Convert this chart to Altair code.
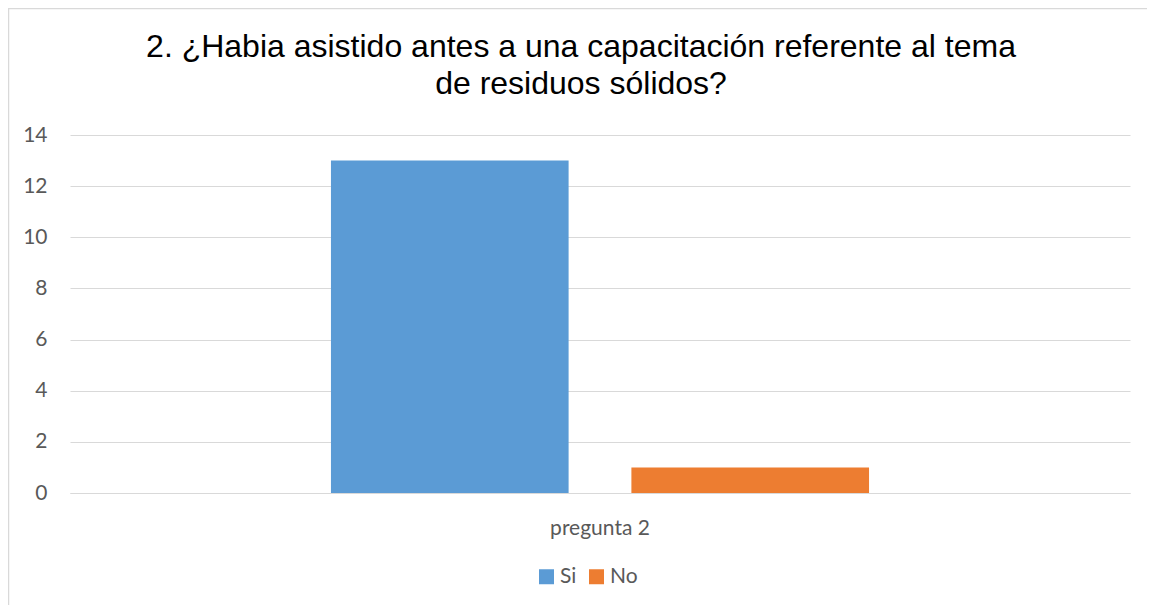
import altair as alt
import pandas as pd

categories = ["pregunta 2"]
series = ["Si", "No"]
values = [13, 1]
colors = ["#5B9BD5", "#ED7D31"]
title_lines = ["2. ¿Habia asistido antes a una capacitación referente al tema",
               "de residuos sólidos?"]

df = pd.DataFrame({
    "categoria": [categories[0]] * len(series),
    "serie": series,
    "valor": values,
})

W, H = 1060, 358
label_font = "Lato"
label_color = "#595959"
fs = 21

bars = alt.Chart(df).mark_bar().encode(
    x=alt.X("categoria:N", title=None,
            scale=alt.Scale(paddingOuter=0.485, paddingInner=0),
            axis=alt.Axis(labelAngle=0, ticks=False, domain=True, domainColor="#d9d9d9",
                          grid=False, labelPadding=24, labelFontSize=fs, labelFont=label_font,
                          labelColor=label_color)),
    xOffset=alt.XOffset("serie:N", sort=series,
                        scale=alt.Scale(paddingInner=0.209, paddingOuter=0)),
    y=alt.Y("valor:Q", title=None,
            scale=alt.Scale(domain=[0, 14]),
            axis=alt.Axis(values=list(range(0, 15, 2)), ticks=False, domain=False,
                          grid=True, gridColor="#d9d9d9", labelPadding=23, labelFontSize=fs,
                          labelFont=label_font, labelColor=label_color)),
    color=alt.Color("serie:N", sort=series,
                    scale=alt.Scale(domain=series, range=colors),
                    legend=alt.Legend(title=None, orient="none", legendX=466, legendY=431,
                                      direction="horizontal", symbolType="square",
                                      symbolSize=225, symbolStrokeWidth=0,
                                      labelFontSize=fs, labelFont=label_font,
                                      labelColor=label_color, labelOffset=3,
                                      columnPadding=9)),
)

border = alt.Chart(alt.Data(values=[{"a": 1}])).mark_rect(
    fill=None, stroke="#d9d9d9", strokeWidth=1.5, clip=False
).encode(
    x=alt.value(-61.5), x2=alt.value(1200),
    y=alt.value(-126.5), y2=alt.value(700),
)

chart = alt.layer(border, bars).properties(
    width=W, height=H,
    title=alt.Title(title_lines, anchor="middle", frame="group", dx=-19, dy=118,
                    baseline="alphabetic",
                    font="Liberation Sans", fontSize=32, fontWeight="normal",
                    color="#000000", lineHeight=37, offset=0),
    padding={"left": 62, "top": 127, "right": 17, "bottom": 112},
    autosize=alt.AutoSizeParams(type="none"),
).configure_view(stroke=None)

chart.save("out.html", embed_options={"renderer": "svg", "actions": False})
